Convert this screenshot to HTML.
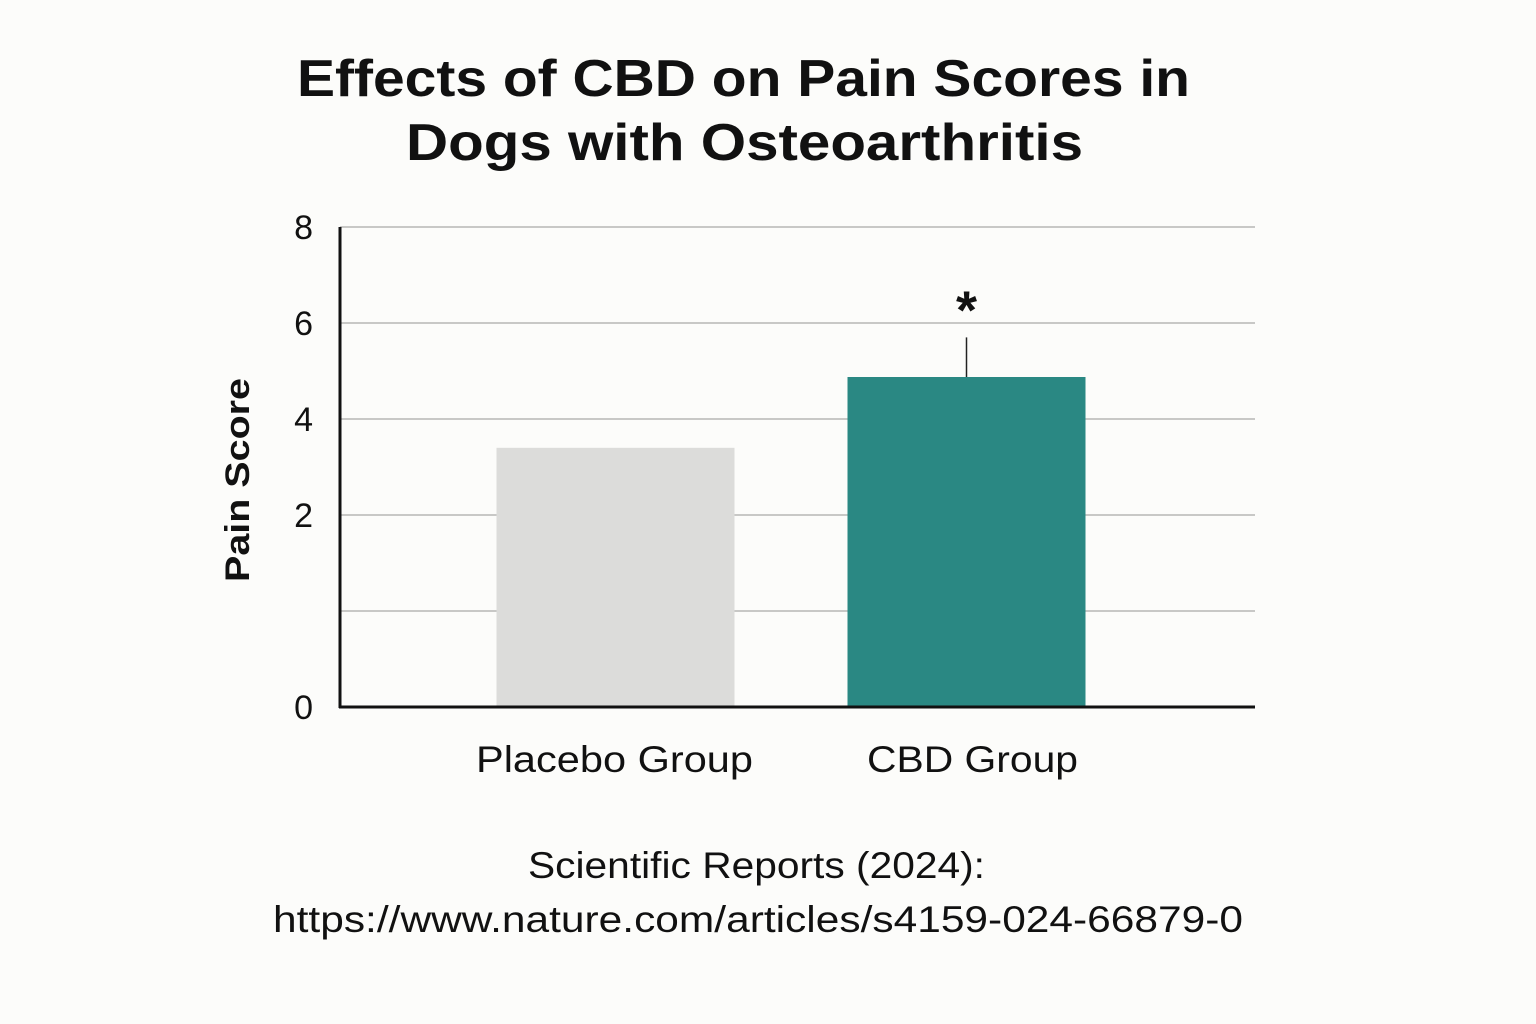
<!DOCTYPE html>
<html><head><meta charset="utf-8"><style>
html,body{margin:0;padding:0;background:#fcfcfa;}
svg{display:block;font-family:"Liberation Sans",sans-serif;}
</style></head><body>
<svg width="1536" height="1024" viewBox="0 0 1536 1024">
<rect width="1536" height="1024" fill="#fcfcfa"/>
<text x="297" y="96" textLength="893" lengthAdjust="spacingAndGlyphs" font-size="52" font-weight="bold" fill="#111">Effects of CBD on Pain Scores in</text>
<text x="406" y="160" textLength="677" lengthAdjust="spacingAndGlyphs" font-size="52" font-weight="bold" fill="#111">Dogs with Osteoarthritis</text>
<g id="grid"></g>
<g id="bars"></g>
<g id="axes"></g>
<text transform="translate(249,582) rotate(-90)" textLength="204" lengthAdjust="spacingAndGlyphs" font-size="34" font-weight="bold" fill="#111">Pain Score</text>
<text x="528" y="878" textLength="457" lengthAdjust="spacingAndGlyphs" font-size="37" fill="#111">Scientific Reports (2024):</text>
<text x="273" y="932" textLength="970" lengthAdjust="spacingAndGlyphs" font-size="37" fill="#111">https://www.nature.com/articles/s4159-024-66879-0</text>
</svg>
<script>
const categories = ["Placebo Group", "CBD Group"];
const values = [5.4, 6.875];
const errorTops = [null, 7.7];
const significance = ["", "*"];
const tickValues = [0, 2, 4, 6, 8, 10];
const tickLabels = ["0", "", "2", "4", "6", "8"];
const colors = ["#dcdcda", "#2a8883"];

const NS = "http://www.w3.org/2000/svg";
const y0 = 707, yTop = 227, vMax = 10, xL = 340, xR = 1255;
function y(v){ return y0 - (v / vMax) * (y0 - yTop); }
const bandStart = 440, band = 351, barW = 238;
const labelWidths = [277, 211];
function xc(i){ return bandStart + band * i + band / 2; }
function mk(tag, attrs, parent){ const e = document.createElementNS(NS, tag); for (const k in attrs) e.setAttribute(k, attrs[k]); parent.appendChild(e); return e; }
const grid = document.getElementById("grid"), bars = document.getElementById("bars"), axes = document.getElementById("axes");
tickValues.forEach((v, i) => {
  if (v > 0) {
    const l = mk("line", {x1: xL, x2: xR, y1: y(v), y2: y(v), stroke: "#c8c8c6", "stroke-width": 2}, grid);
    
    
  }
  const t = mk("text", {x: 313, y: y(v) + 12, "text-anchor": "end", "font-size": 34, fill: "#111"}, axes);
  t.textContent = tickLabels[i];
  
  
});
categories.forEach((c, i) => {
  const cx = xc(i);
  const r = mk("rect", {x: cx - barW / 2, y: y(values[i]), width: barW, height: y0 - y(values[i]), fill: colors[i]}, bars);
  
  
  if (errorTops[i] !== null) {
    const e = mk("line", {x1: cx, x2: cx, y1: y(values[i]), y2: y(errorTops[i]), stroke: "#222", "stroke-width": 1.5}, bars);
    
    
  }
  if (significance[i]) {
    const s = mk("text", {x: cx, y: y(errorTops[i] || values[i]) - 9, "text-anchor": "middle", "font-size": 54, "font-weight": "bold", fill: "#111"}, bars);
    s.textContent = significance[i];
    
    
  }
  const t = mk("text", {x: cx - labelWidths[i] / 2 + (i === 0 ? -1 : 6), y: 772, textLength: labelWidths[i], lengthAdjust: "spacingAndGlyphs", "font-size": 37, fill: "#111"}, axes);
  t.textContent = c;
  
  
});
const ya = mk("line", {x1: xL, x2: xL, y1: yTop, y2: y0 + 1, stroke: "#111", "stroke-width": 3}, axes);


const xa = mk("line", {x1: xL - 1, x2: xR, y1: y0, y2: y0, stroke: "#111", "stroke-width": 3}, axes);


</script>
</body></html>
